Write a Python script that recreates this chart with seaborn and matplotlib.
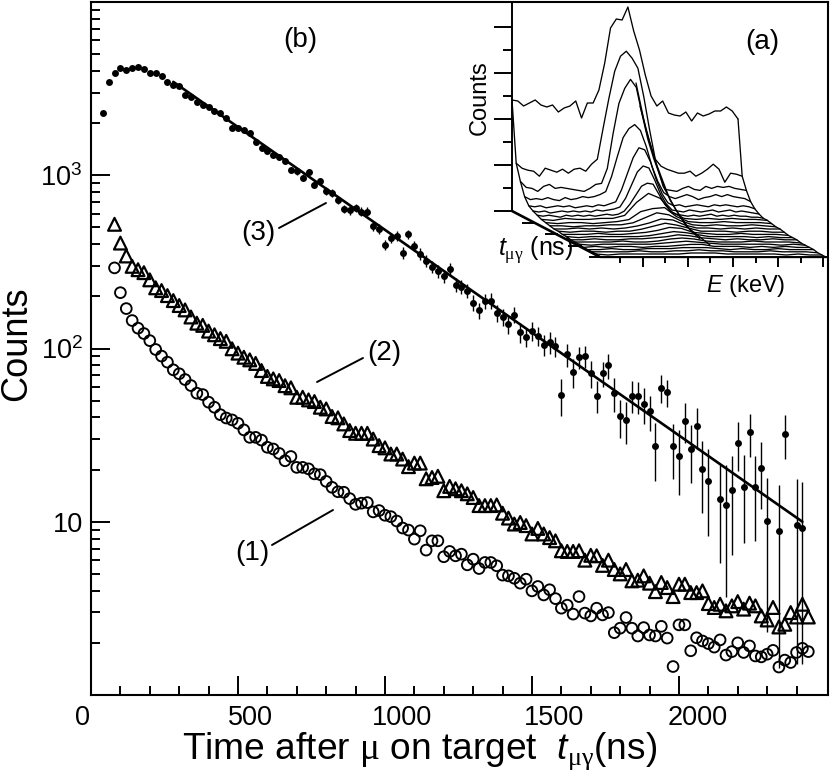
import numpy as np
import matplotlib
matplotlib.use("Agg")
import matplotlib.pyplot as plt
from matplotlib.ticker import FixedLocator, NullFormatter, FixedFormatter
from matplotlib.transforms import ScaledTranslation
import seaborn as sns

# ---------- main panel data ----------
t1 = np.arange(80, 2441, 20)
y1 = [292,210,170,145,131,122,111,98.7,90.4,83.4,75.3,71.5,66.2,61.1,55.2,54.2,
      49,45.8,41.5,39.7,38.7,37,33.9,30.7,30.7,29.6,26.9,26.3,
      24.8,22.5,23.8,20.6,20.6,20.2,18.9,18.7,17.1,15.8,
      14.9,14.8,13.6,12.6,12.8,12.9,11.4,11.6,10.9,10.7,
      10.1,9.2,8.95,7.94,8.87,6.86,7.76,7.76,6.28,6.74,
      6.36,6.5,5.64,6.08,5.37,5.82,5.82,5.57,4.92,4.87,
      4.72,4.42,4.66,3.99,4.23,3.78,4.05,3.6,3.17,3.3,
      2.93,3.7,2.97,2.86,3.17,2.9,2.99,2.29,2.43,2.8,
      2.43,2.19,2.45,2.22,2.19,2.49,2.13,1.46,2.54,2.54,
      1.8,2.14,2.05,1.98,1.89,2.08,1.7,1.78,2.0,1.76,
      1.92,1.68,1.66,1.72,1.81,1.45,1.59,1.54,1.76,1.86,1.78]
t2 = np.arange(80, 2441, 20)
y2 = [521,406,342,298,285,274,249,224,216,202,189,
      177,167,152,140,136,126,120,114,110,99.6,
      94,89,86,82,74.6,69,66.8,65.3,61,59.3,
      52.3,52.3,50.5,49.4,45.8,44.8,40.5,39.8,36.7,33.6,
      32.4,32.4,32.4,30,27.5,26.7,24.6,24.6,23,20.8,
      21.8,21.8,17.7,18,18.3,15.1,16,15.5,15.1,14.5,
      13.8,12.4,12.4,12.4,12.5,11.2,10.5,9.7,
      9.9,9.5,8.5,9.15,8.5,8.1,7.76,6.8,6.74,6.74,
      6.8,6.0,6.4,6.36,5.6,6.0,5.3,5.0,5.3,4.56,
      4.6,4.87,4.42,3.95,4.46,4.17,3.7,4.36,4.36,3.9,
      3.9,3.99,3.37,3.2,3.34,3.06,3.27,3.46,3.13,3.39,
      3.27,2.86,2.71,3.2,2.47,2.56,2.99,2.82,3.34,2.82]
nan = float("nan")
t3 = np.arange(40, 2421, 20)
y3 = [2290,3460,3880,4170,4050,4140,4230,4080,3870,3870,
      3750,3460,3310,3280,2900,2840,2650,2540,2480,2350,
      2290,2130,1880,1870,1820,1760,1560,1440,1380,1310,
      1280,1210,1070,1055,970,1040,883,923,811,790,
      716,639,628,650,617,617,509,492,397,437,
      448,357,456,392,352,321,295,280,262,289,
      234,226,215,184,166,187,189,161,152,138,
      157,124,117,
      126,118,105,109,103,53.7,92.7,72.9,89,90.4,
      72,53.5,72,79.8,55.2,40.6,38.7,53.5,53,47.9,
      43.4,27.2,59.5,55.9,27.2,24.1,38.4,26.4,35.7,20.2,
      17.3,nan,13.6,12.5,15.2,28.6,15.9,32.8,15.8,20.3,
      10.1,nan,8.84,32.3,nan,9.6,9.2]
e3 = [70,85,90,92,91,92,93,91,89,89,88,84,82,82,77,76,73,72,71,69,68,66,62,62,61,60,56,54,52,51,
      50,49,46,46,44,45,42,43,40,40,38,36,36,36,35,35,32,31,28,29,
      30,27,30,28,26,25,24,24,23,24,22,21,20,19,18,19,19,18,17,16,
      17,16,15,
      16,15,15,15.5,14,13,14,14,13,13,13,11,12,12.7,12,10,10.5,11,11,11,10,10,11,10,9.5,
      9.8,10,9.6,9.5,9,9,nan,7.8,8.8,8.8,8.9,8.4,9,8.1,8.4,7.8,nan,7.4,9.2,nan,8.1,7.7]
fit_t = [280, 2420]
fit_y = [3460, 10]

x_major = [0, 500, 1000, 1500, 2000]
x_major_labels = ["0", "500", "1000", "1500", "2000"]
x_minor = [100,200,300,400,600,700,800,900,1100,1200,1300,1400,1600,1700,1800,1900,2100,2200,2300,2400]
y_major = [10, 100, 1000]
y_major_labels = ["10", "10$^2$", "10$^3$"]

# ---------- inset spectra (height above each trace's own baseline) ----------
spectra = [
 [111,110,105,108,111,106,104,106,99,103,105,110,93,108,108,121,148,183,192,191,204,180,161,136,115,105,110,98,96,95,99,90,98,95,97,100,100,104,100,92],
 [50,45,43,42,37,45,43,41,44,40,44,45,42,49,54,85,115,142,157,162,155,145,117,84,54,47,44,42,40,40,42,37,40,44,49,44,31,40,39,37],
 [34,28,27,24,29,31,27,28,27,26,25,24,27,31,32,47,82,112,127,136,128,101,76,57,41,26,25,24,27,29,26,25,29,27,29,28,29,27,26,25],
 [21,18,19,18,20,18,17,20,18,19,21,20,21,23,26,41,61,80,89,93,87,71,51,36,25,21,19,21,23,21,18,20,21,23,21,23,21,20,19,16],
 [14,13,14,12,13,14,13,14,12,13,14,13,15,14,16,18,30,46,62,72,70,58,40,26,17,14,15,13,14,15,14,13,15,14,15,14,13,14,13,11],
 [11,10,11,9,10,11,10,11,10,11,10,12,11,12,13,15,24,37,50,56,54,42,28,18,12,11,10,12,11,10,11,12,10,11,12,10,11,10,9,8],
 [9,8,9,8,7,9,8,9,8,9,8,9,10,9,10,13,20,29,38,41,40,30,20,13,10,9,8,9,8,9,10,8,9,8,9,8,8,7,7,6],
 [7,6,8,7,7,8,8,11,24,33,28,14,8,7,8,7,8,7,7,6],
 [6,5,6,6,5,6,7,9,17,20,21,12,7,6,6,7,6,6,6,5],
 [5,5,4,5,5,6,6,8,13,18,16,10,6,5,6,5,5,6,5,4],
 [4,4,5,4,5,4,5,7,10,14,13,8,5,5,4,5,4,5,4,4],
 [4,3,4,4,3,4,4,6,9,12,10,7,4,4,4,3,4,4,3,3],
 [3,3,3,4,3,3,4,5,7,10,9,5,4,3,3,4,3,3,3,2],
 [3,2,3,3,3,3,3,4,6,8,7,5,3,3,3,3,2,3,2,2],
 [2,2,3,2,2,3,3,4,5,7,6,4,3,2,3,2,2,3,2,2],
 [2,2,2,2,3,2,2,3,5,6,5,3,2,2,2,3,2,2,2,1],
 [2,1,2,2,2,2,2,3,4,5,4,3,2,2,2,2,2,1,2,1],
 [1,2,1,2,2,1,2,2,3,4,4,2,2,2,1,2,1,2,1,1],
 [1,1,2,1,1,2,2,2,3,3,3,2,1,2,1,1,2,1,1,1],
 [1,1,1,1,2,1,1,2,2,3,2,2,1,1,1,2,1,1,1,0],
 [1,0,1,1,1,1,1,1,2,2,2,1,1,1,1,1,0,1,0,0],
 [0,0,0,0,0,0,0,0,0,0,0,0,0,0,0,0,0,0,0,0],
]
ridge_a_x = [124,134,144,158,174,198]
ridge_a_y = [128,81,48,11,-15,-34]
ridge_b_x = [128,138,151,164,178,188]
ridge_b_y = [105,68,25,1,-19,-28]

# ---------- figure ----------
W, H = 831, 774
sns.set_theme(style="ticks")
plt.rcParams.update({
    "font.family": "Liberation Sans",
    "mathtext.fontset": "custom",
    "mathtext.rm": "Liberation Sans",
    "mathtext.it": "Liberation Sans:italic",
    "mathtext.cal": "Liberation Serif",
    "mathtext.default": "regular",
    "text.color": "black",
})
fig = plt.figure(figsize=(W / 100, H / 100), dpi=100, facecolor="white")

def box(l, t, r, b):
    return [l / W, 1 - b / H, (r - l) / W, (b - t) / H]

def ftext(px, py, s, **kw):
    kw.setdefault("ha", "center")
    kw.setdefault("va", "center")
    kw.setdefault("color", "black")
    return fig.text(px / W, 1 - py / H, s, **kw)

ax = fig.add_axes(box(91, 2, 828, 695))
ax.set_yscale("log")

ax.errorbar(t3, y3, yerr=e3, fmt="none", ecolor="black", elinewidth=1.0, capsize=0, zorder=2)
sns.lineplot(x=fit_t, y=fit_y, color="black", linewidth=1.9, ax=ax, zorder=3, estimator=None)
sns.scatterplot(x=t3, y=y3, marker="o", s=25, color="black", linewidth=0, ax=ax, zorder=4)
sns.scatterplot(x=t1, y=y1, marker="o", s=60, facecolors="none", edgecolor="black", linewidth=1.35, ax=ax, zorder=3)
sns.scatterplot(x=t2, y=y2, marker="^", s=85, facecolors="none", edgecolor="black", linewidth=1.6, ax=ax, zorder=4)

ax.set_xlim(0, 2507)
ax.set_ylim(1, 10000)
ax.xaxis.set_major_locator(FixedLocator(x_major))
ax.xaxis.set_major_formatter(FixedFormatter(x_major_labels))
ax.xaxis.set_minor_locator(FixedLocator(x_minor))
ax.xaxis.set_minor_formatter(NullFormatter())
ax.yaxis.set_major_locator(FixedLocator(y_major))
ax.yaxis.set_major_formatter(FixedFormatter(y_major_labels))
y_minor = [m * d for d in (1, 10, 100, 1000) for m in range(2, 10)]
ax.yaxis.set_minor_locator(FixedLocator(y_minor))
ax.yaxis.set_minor_formatter(NullFormatter())

ax.tick_params(axis="both", which="major", direction="in", length=13.5, width=1.4, labelsize=19.5, color="black", labelcolor="black")
ax.tick_params(axis="both", which="minor", direction="in", length=6.3, width=1.4, color="black")
ax.tick_params(axis="x", which="major", pad=7)
ax.tick_params(axis="y", which="major", pad=6)
for s in ax.spines.values():
    s.set_linewidth(1.5)
    s.set_color("black")

fig.canvas.draw()
label_shift = [-8, 12, 17, 22, 19]
for lab, dx in zip(ax.get_xticklabels(), label_shift):
    lab.set_transform(lab.get_transform() + ScaledTranslation(dx / 100, 0, fig.dpi_scale_trans))

ax.set_xlabel(r"Time after $\mathcal{\mu}$ on target  $\mathit{t}_{\mathcal{\mu\gamma}}$(ns)", fontsize=26.7, color="black")
ax.xaxis.set_label_coords((420 - 91) / 737, (695 - 751) / 693)
ax.xaxis.label.set_va("center")
ax.set_ylabel("Counts", fontsize=26, color="black")
ax.yaxis.set_label_coords((17 - 91) / 737, (695 - 344) / 693)
ax.yaxis.label.set_va("center")

# leader lines and series tags, placed in figure pixels
for (x0, y0, x1, y1_) in [(279, 228, 326, 203), (317, 382, 363, 358), (272, 545, 333, 510)]:
    fig.add_artist(plt.Line2D([x0 / W, x1 / W], [1 - y0 / H, 1 - y1_ / H], color="black", lw=1.4))
ftext(258, 233, "(3)", fontsize=20)
ftext(384, 353, "(2)", fontsize=20)
ftext(252, 553, "(1)", fontsize=20)
ftext(300, 40, "(b)", fontsize=20)

# ---------- inset ----------
ins = fig.add_axes(box(490, 0, 828, 270))
ins.patch.set_visible(False)
ins.set_xlim(-22, 316)
ins.set_ylim(-59, 211)
step_x, step_y, span = 4.2, 2.2, 226
first_x, first_y, last_x, last_y = [], [], [], []
for i, h in enumerate(spectra):
    h = np.asarray(h, float)
    ex = np.linspace(0, span, len(h)) + step_x * i
    ey = h - step_y * i
    sns.lineplot(x=ex, y=ey, color="black", linewidth=0.95, sort=False, estimator=None, ax=ins)
    first_x.append(ex[0]); first_y.append(ey[0])
    last_x.append(ex[-1]); last_y.append(ey[-1])
sns.lineplot(x=first_x, y=first_y, color="black", linewidth=0.95, sort=False, estimator=None, ax=ins)
sns.lineplot(x=last_x, y=last_y, color="black", linewidth=0.95, sort=False, estimator=None, ax=ins)
sns.lineplot(x=ridge_a_x, y=ridge_a_y, color="black", linewidth=0.95, sort=False, estimator=None, ax=ins)
sns.lineplot(x=ridge_b_x, y=ridge_b_y, color="black", linewidth=0.95, sort=False, estimator=None, ax=ins)

ins.plot([0, 88], [0, -46], color="black", lw=1.9, solid_capstyle="butt")
for xa, xb, yy in [(10, 23, -12), (33, 46, -23), (56, 70, -35)]:
    ins.plot([xa, xb], [yy, yy], color="black", lw=1.4, solid_capstyle="butt")

for side in ("top", "right"):
    ins.spines[side].set_visible(False)
ins.spines["left"].set_position(("data", 0))
ins.spines["left"].set_bounds(0, 209)
ins.spines["bottom"].set_position(("data", -46))
ins.spines["bottom"].set_bounds(78, 314)
for side in ("left", "bottom"):
    ins.spines[side].set_linewidth(1.4)
    ins.spines[side].set_color("black")
ins.yaxis.set_major_locator(FixedLocator([0, 46, 92, 138, 184]))
ins.yaxis.set_minor_locator(FixedLocator([23, 69, 115, 161]))
ins.xaxis.set_major_locator(FixedLocator([131, 176, 221, 266, 311]))
ins.xaxis.set_minor_locator(FixedLocator([108, 153, 198, 244, 289]))
for a in (ins.xaxis, ins.yaxis):
    a.set_major_formatter(NullFormatter())
    a.set_minor_formatter(NullFormatter())
ins.tick_params(axis="y", which="major", direction="out", length=13, width=1.4, color="black")
ins.tick_params(axis="y", which="minor", direction="out", length=6.5, width=1.4, color="black")
ins.tick_params(axis="x", which="major", direction="out", length=7, width=1.4, color="black")
ins.tick_params(axis="x", which="minor", direction="out", length=4, width=1.4, color="black")
ins.set_xlabel("")
ins.set_ylabel("")

ftext(762, 42, "(a)", fontsize=20)
ftext(480, 98, "Counts", fontsize=17, rotation=90)
ftext(746, 286, r"$\mathit{E}$ (keV)", fontsize=17)
ftext(536, 250, r"$\mathit{t}_{\mathcal{\mu\gamma}}$ (ns)", fontsize=18)

fig.savefig("out.png", dpi=100, facecolor="white")
